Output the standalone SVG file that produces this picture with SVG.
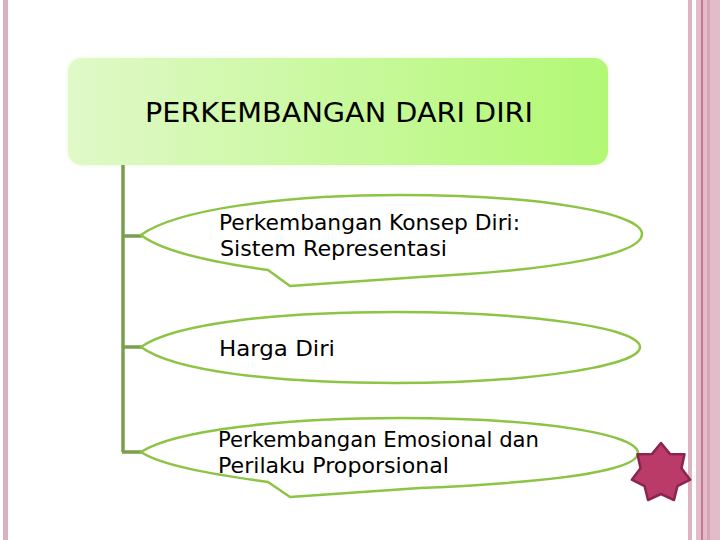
<svg xmlns="http://www.w3.org/2000/svg" width="720" height="540" viewBox="0 0 720 540">
<defs>
<linearGradient id="boxGrad" x1="0" y1="0" x2="1" y2="0">
<stop offset="0" stop-color="#e0f9c8"/>
<stop offset="1" stop-color="#b2f874"/>
</linearGradient>
<filter id="glow" x="-5%" y="-10%" width="110%" height="120%">
<feGaussianBlur stdDeviation="2"/>
</filter>
</defs>
<style>
.leaf{fill:#ffffff;stroke:#8cc444;stroke-width:2.5;stroke-linejoin:round}
.conn{fill:none;stroke:#7a9e4c;stroke-width:3.5}
.t{font-family:"DejaVu Sans","Liberation Sans",sans-serif;fill:#000000}
</style>
<rect width="720" height="540" fill="#ffffff"/>
<g id="border">
<rect x="3" y="0" width="5" height="540" fill="#d9b2c0"/>
<rect x="688" y="0" width="4" height="540" fill="#dcb4c2"/>
<rect x="696" y="0" width="24" height="540" fill="#e2bcc8"/>
<rect x="701" y="0" width="2" height="540" fill="#c27a94"/>
<rect x="707" y="0" width="3" height="540" fill="#d6a6b6"/>
</g>
<g id="title">
<rect x="68" y="58" width="540" height="107" rx="14" fill="#eaf7dc" filter="url(#glow)"/>
<rect x="68" y="58" width="540" height="107" rx="14" fill="url(#boxGrad)"/>
<text class="t" x="145" y="122" font-size="27" textLength="388" lengthAdjust="spacingAndGlyphs">PERKEMBANGAN DARI DIRI</text>
</g>
<g id="connectors">
<path class="conn" d="M123,165 V452 M122,236 H142 M122,347 H142 M122,452 H142"/>
</g>
<g id="node1">
<path class="leaf" d="M141,235 C175,210 280,195 400,195 C540,195 642,213 642,234 C642,254 560,270 420,277 L290,286 L268,270 C210,262 160,250 141,235 Z"/>
<text class="t" x="219" y="230" font-size="22" textLength="301" lengthAdjust="spacingAndGlyphs">Perkembangan Konsep Diri:</text>
<text class="t" x="220" y="256" font-size="22" textLength="227" lengthAdjust="spacingAndGlyphs">Sistem Representasi</text>
</g>
<g id="node2">
<path class="leaf" d="M141,347 C175,323 280,312 395,312 C530,312 640,328 640,347 C640,366 530,383 395,383 C280,383 175,372 141,347 Z"/>
<text class="t" x="219" y="356" font-size="22" textLength="116" lengthAdjust="spacingAndGlyphs">Harga Diri</text>
</g>
<g id="node3">
<path class="leaf" d="M141,452 C175,430 285,418 400,418 C540,418 638,434 638,453 C638,470 560,482 420,488 L290,497 L268,482 C210,474 160,465 141,452 Z"/>
<text class="t" x="218" y="447" font-size="22" textLength="321" lengthAdjust="spacingAndGlyphs">Perkembangan Emosional dan</text>
<text class="t" x="218" y="473" font-size="22" textLength="231" lengthAdjust="spacingAndGlyphs">Perilaku Proporsional</text>
</g>
<g id="star">
<polygon points="661,443 670.1,454.1 684.5,454.3 681.5,468.3 690.2,479.7 677.4,486.1 674,500 661,494 648,500 644.6,486.1 631.8,479.7 640.5,468.3 637.5,454.3 651.9,454.1" fill="#ba3a68" stroke="#8a2450" stroke-width="2.5" stroke-linejoin="round"/>
</g>
</svg>
